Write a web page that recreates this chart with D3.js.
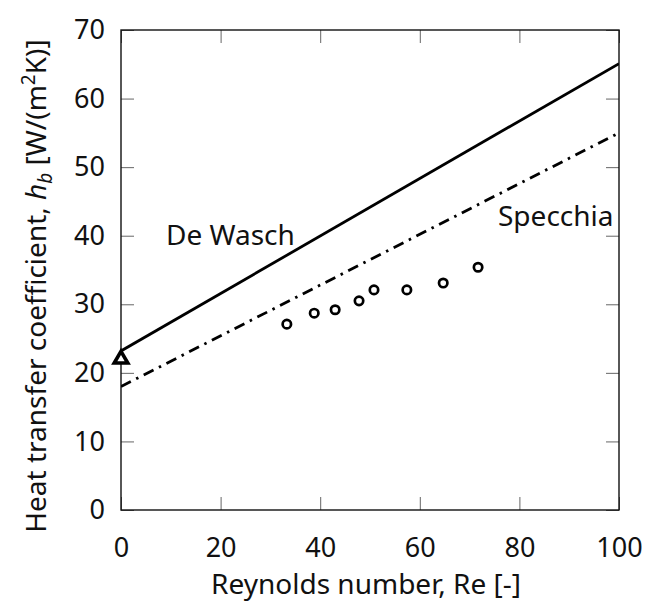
<!DOCTYPE html>
<html><head><meta charset="utf-8">
<script src="https://cdn.jsdelivr.net/npm/d3@7"></script>
<style>body{margin:0;background:#fff}svg{display:block}text{font-family:"Noto Sans",sans-serif;fill:#111}</style>
</head><body><svg id="c" width="649" height="601"></svg>
<script>
const xTicks = [0, 20, 40, 60, 80, 100];
const yTicks = [0, 10, 20, 30, 40, 50, 60, 70];
const deWaschRe = [0, 100];
const deWaschH = [23.2, 65.1];
const specchiaRe = [0, 100];
const specchiaH = [18.0, 55.0];
const expRe = [33.3, 38.8, 43.0, 47.8, 50.8, 57.4, 64.7, 71.7];
const expH = [27.1, 28.7, 29.2, 30.5, 32.1, 32.1, 33.1, 35.4];
const triRe = [0];
const triH = [22.0];

const svg = d3.select("#c");
const L = 121, R = 619, T = 30, B = 510;
const x = d3.scaleLinear().domain([0, 100]).range([L, R]);
const y = d3.scaleLinear().domain([0, 70]).range([B, T]);

svg.append("clipPath").attr("id","cp").append("rect").attr("x",L).attr("y",T).attr("width",R-L).attr("height",B-T);

const tk = 13, fs = 27;
const gx = svg.append("g").attr("transform",`translate(0,${B})`).call(d3.axisBottom(x).tickValues(xTicks).tickSizeInner(-tk).tickSizeOuter(0).tickPadding(28).tickFormat(d3.format("d")));
const gxt = svg.append("g").attr("transform",`translate(0,${T})`).call(d3.axisTop(x).tickValues(xTicks).tickSizeInner(-tk).tickSizeOuter(0).tickFormat(""));
const gy = svg.append("g").attr("transform",`translate(${L},0)`).call(d3.axisLeft(y).tickValues(yTicks).tickSizeInner(-tk).tickSizeOuter(0).tickPadding(16).tickFormat(d3.format("d")));
const gyr = svg.append("g").attr("transform",`translate(${R},0)`).call(d3.axisRight(y).tickValues(yTicks).tickSizeInner(-tk).tickSizeOuter(0).tickFormat(""));
[gx,gxt,gy,gyr].forEach(g=>{
  g.select(".domain").remove();
  g.selectAll(".tick line").attr("stroke","#666").attr("stroke-width",1);
  g.selectAll(".tick text").attr("font-size",fs).attr("fill","#111").attr("font-family","Noto Sans, sans-serif");
});

svg.append("rect").attr("x",L).attr("y",T).attr("width",R-L).attr("height",B-T).attr("fill","none").attr("stroke","#111").attr("stroke-width",1.4);

const line = d3.line().x(d=>x(d[0])).y(d=>y(d[1]));
const plot = svg.append("g").attr("clip-path","url(#cp)");
plot.append("path").datum(deWaschRe.map((r,i)=>[r,deWaschH[i]])).attr("d",line).attr("fill","none").attr("stroke","#000").attr("stroke-width",2.8);
plot.append("path").datum(specchiaRe.map((r,i)=>[r,specchiaH[i]])).attr("d",line).attr("fill","none").attr("stroke","#000").attr("stroke-width",2.8).attr("stroke-dasharray","11,6,2.5,6");

svg.append("g").selectAll("circle").data(expRe.map((r,i)=>[r,expH[i]])).join("circle")
  .attr("cx",d=>x(d[0])).attr("cy",d=>y(d[1])).attr("r",4.2).attr("fill","none").attr("stroke","#000").attr("stroke-width",2.7);

svg.append("g").selectAll("path").data(triRe.map((r,i)=>[r,triH[i]])).join("path")
  .attr("transform",d=>`translate(${x(d[0])},${y(d[1])})`)
  .attr("d",d3.symbol().type(d3.symbolTriangle).size(80)).attr("fill","#fff").attr("stroke","#000").attr("stroke-width",3.6).attr("stroke-linejoin","miter");

svg.append("text").attr("x",166).attr("y",245).attr("font-size",28).text("De Wasch");
svg.append("text").attr("x",498).attr("y",226).attr("font-size",28).text("Specchia");

svg.append("text").attr("x",366).attr("y",594).attr("text-anchor","middle").attr("font-size",28).text("Reynolds number, Re [-]");

const yl = svg.append("text").attr("transform","translate(46,286) rotate(-90)").attr("text-anchor","middle").attr("font-size",28);
yl.append("tspan").text("Heat transfer coefficient, ");
yl.append("tspan").attr("font-style","italic").text("h");
yl.append("tspan").attr("font-style","italic").attr("font-size",19).attr("dy",6).text("b");
yl.append("tspan").attr("dy",-6).text(" [W/(m");
yl.append("tspan").attr("font-size",19).attr("dy",-11).text("2");
yl.append("tspan").attr("dy",11).text("K)]");
</script></body></html>
